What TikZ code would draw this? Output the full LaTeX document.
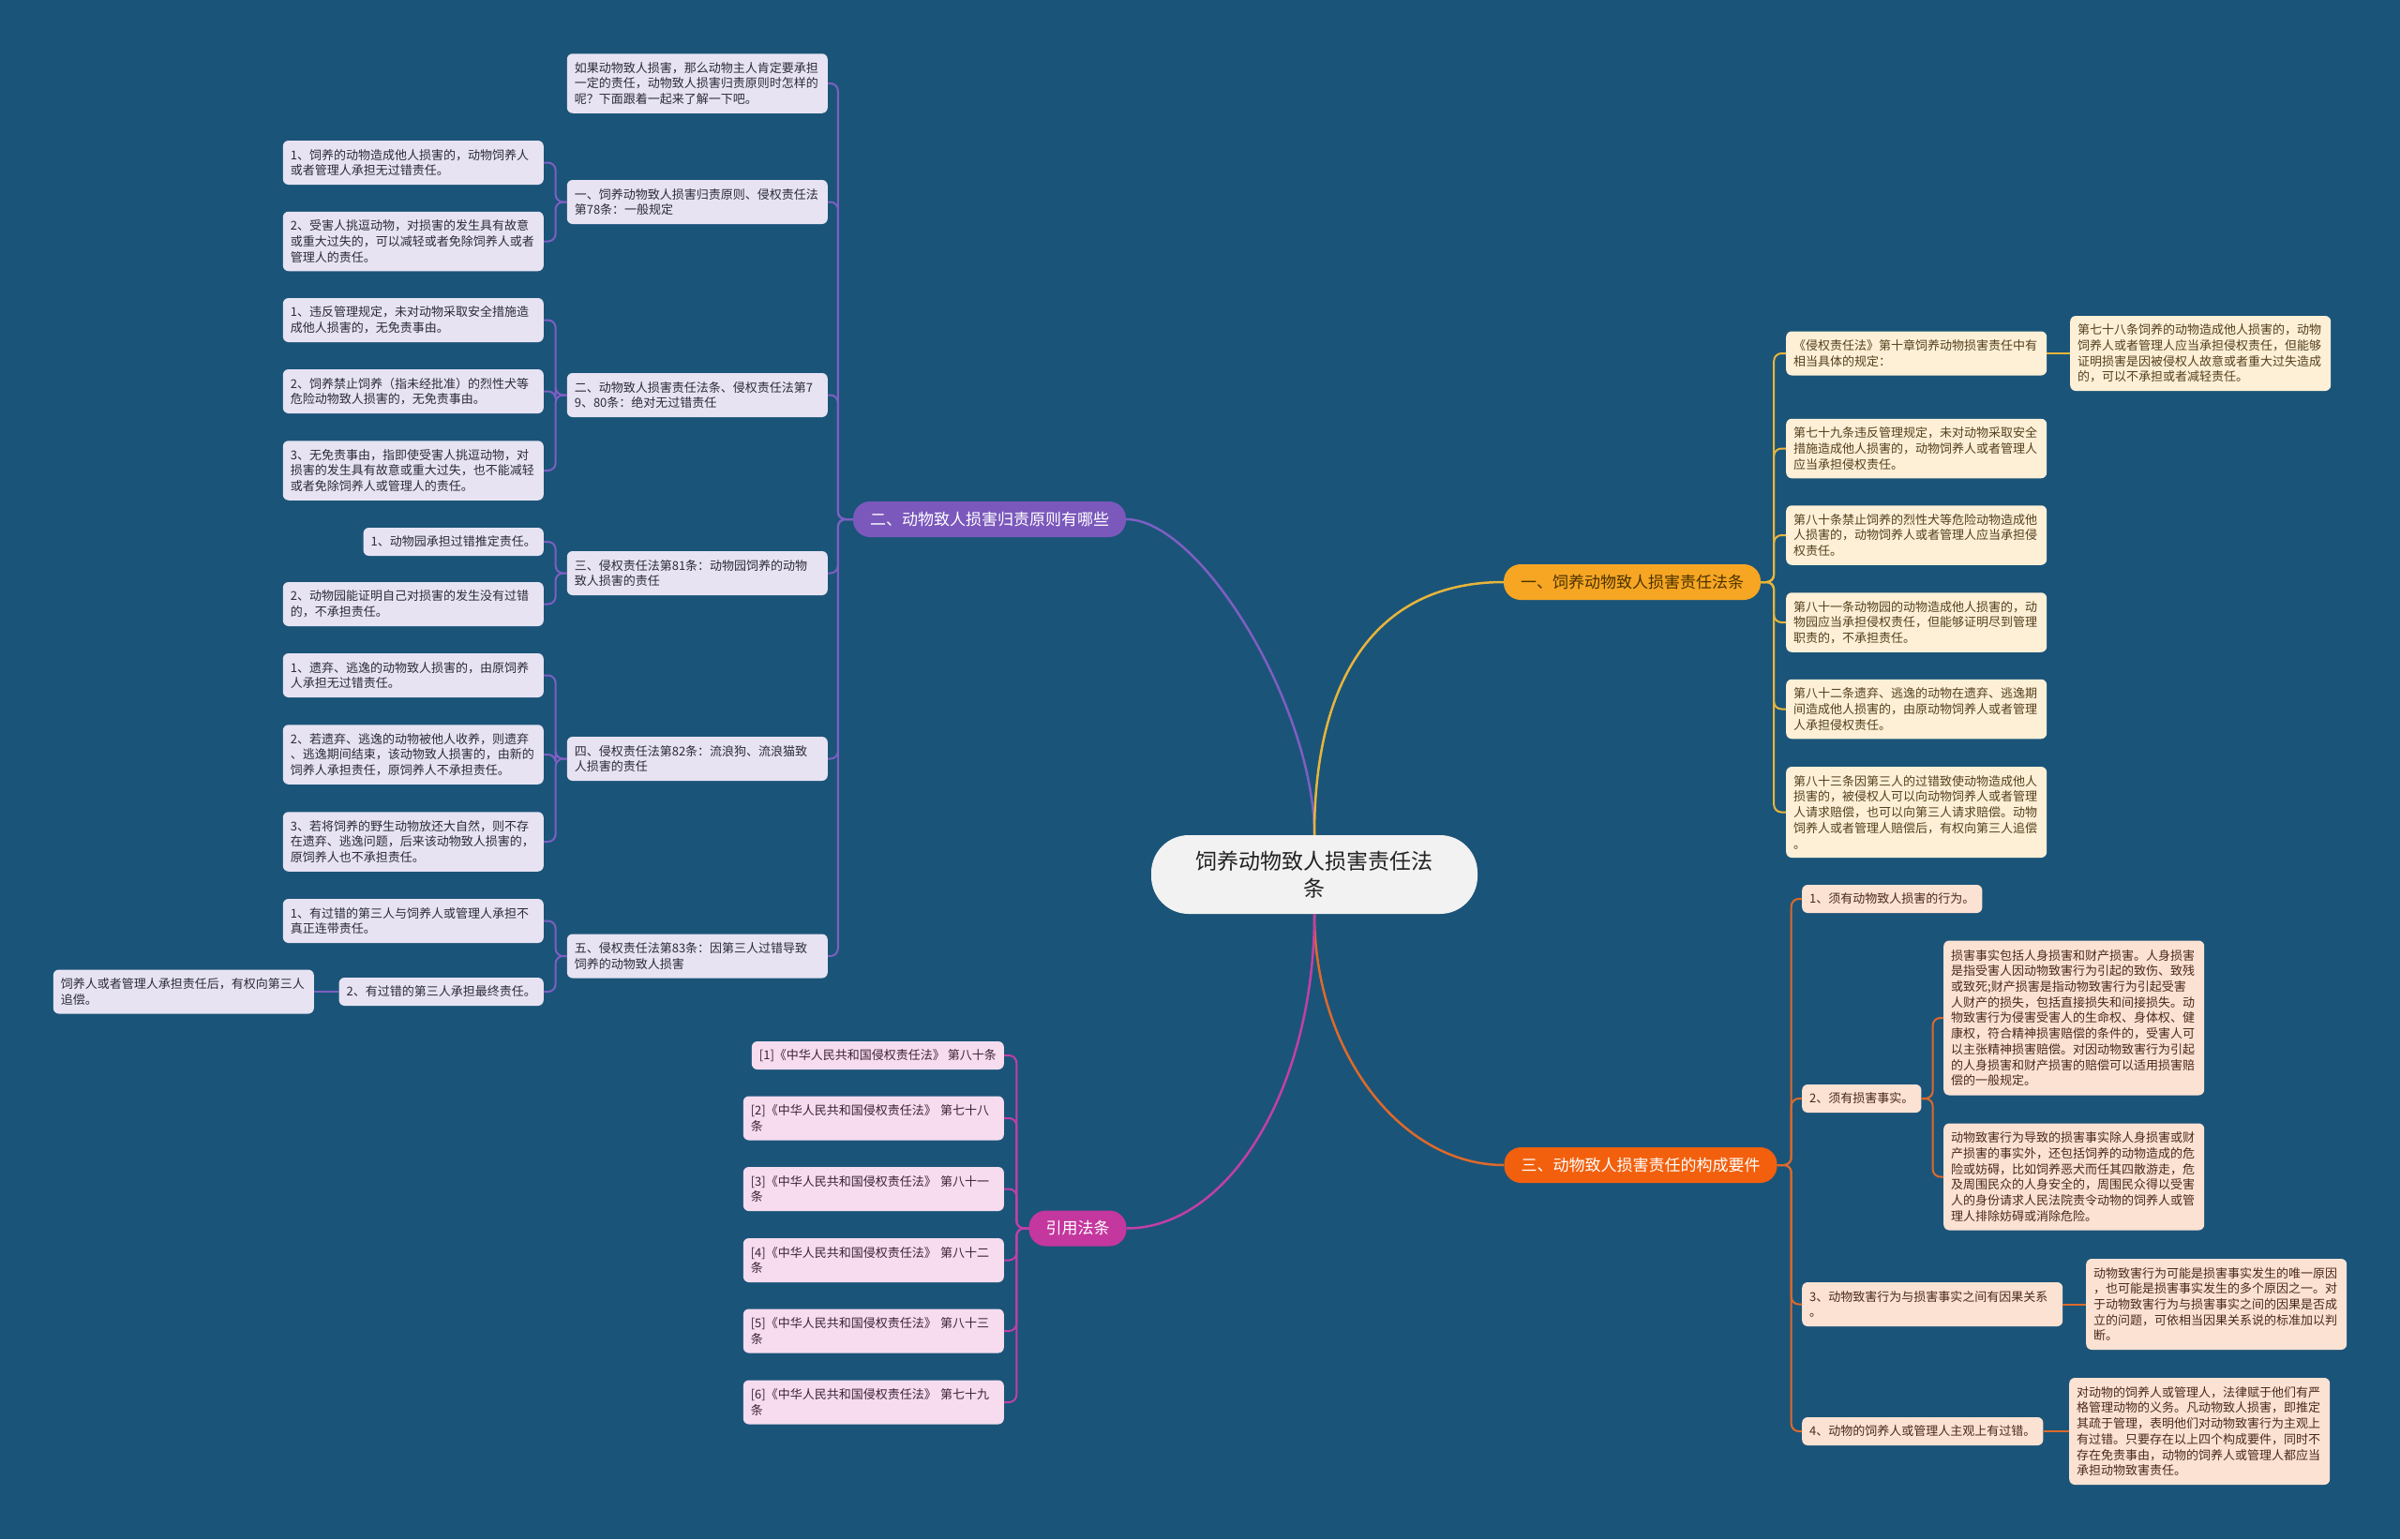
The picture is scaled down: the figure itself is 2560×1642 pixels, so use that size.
\documentclass[tikz,border=0pt]{standalone}
\usepackage{fontspec}
\setmainfont{Noto Sans CJK SC}
\definecolor{bg}{HTML}{1B5479}
\definecolor{cfill}{HTML}{F2F2F2}
\definecolor{ctext}{HTML}{222222}
\definecolor{pcol}{HTML}{7B58BC}
\definecolor{plinec}{HTML}{7D5FC2}
\definecolor{pleaff}{HTML}{E7E3F2}
\definecolor{ptext}{HTML}{2B2B3A}
\definecolor{ycol}{HTML}{F6A623}
\definecolor{ylinec}{HTML}{E8B53A}
\definecolor{yleaff}{HTML}{FDF0D6}
\definecolor{ytext}{HTML}{54401E}
\definecolor{ybtext}{HTML}{4B3200}
\definecolor{ocol}{HTML}{F2600D}
\definecolor{olinec}{HTML}{DE6A2A}
\definecolor{oleaff}{HTML}{FCE2D3}
\definecolor{otext}{HTML}{4A2A1A}
\definecolor{mcol}{HTML}{C4379E}
\definecolor{mlinec}{HTML}{C23FA8}
\definecolor{mleaff}{HTML}{F6DCEE}
\definecolor{mtext}{HTML}{3E2238}
\tikzset{
  leafbase/.style={rounded corners=6pt, inner xsep=8pt, inner ysep=0pt, align=left,
    font=\fontsize{13}{16.7}\selectfont},
  tw/.style={text width=262pt},
  hA/.style={minimum height=30pt},
  hB/.style={minimum height=47pt},
  hC/.style={minimum height=63.5pt},
  hD/.style={minimum height=80pt},
  hE/.style={minimum height=97pt},
  hF/.style={minimum height=114pt},
  hI/.style={minimum height=165pt},
  pleaf/.style={leafbase, fill=pleaff, text=ptext, anchor=east},
  yleaf/.style={leafbase, fill=yleaff, text=ytext, anchor=west},
  oleaf/.style={leafbase, fill=oleaff, text=otext, anchor=west},
  mleaf/.style={leafbase, fill=mleaff, text=mtext, anchor=east},
  bnode/.style={rounded corners=18pt, minimum height=38pt, inner xsep=18pt, inner ysep=0pt,
    font=\fontsize{17}{20}\selectfont},
  cnode/.style={fill=cfill, text=ctext, rounded corners=40pt, align=center,
    font=\fontsize{23}{29.5}\selectfont, minimum width=348pt, minimum height=84pt, inner sep=0pt},
  pline/.style={draw=plinec, line width=2pt, rounded corners=8pt},
  yline/.style={draw=ylinec, line width=2pt, rounded corners=8pt},
  oline/.style={draw=olinec, line width=2pt, rounded corners=8pt},
  mline/.style={draw=mlinec, line width=2pt, rounded corners=8pt},
}
\begin{document}
\begin{tikzpicture}[x=1pt,y=-1pt]
\fill[bg] (0,0) rectangle (2560,1642);
\useasboundingbox (0,0) rectangle (2560,1642);

% center and branches
\node[cnode] (C) at (1402,933) {饲养动物致人损害责任法\\条};
\node[bnode, fill=pcol, text=white] (B2) at (1055.5,554) {二、动物致人损害归责原则有哪些};
\node[bnode, fill=ycol, text=ybtext] (B1) at (1741,621) {一、饲养动物致人损害责任法条};
\node[bnode, fill=ocol, text=white] (B3) at (1750,1243) {三、动物致人损害责任的构成要件};
\node[bnode, fill=mcol, text=white] (CI) at (1149.5,1310.5) {引用法条};

% left purple level 2
\node[pleaf, tw, hC] (Lin) at (883,89) {如果动物致人损害，那么动物主人肯定要承担\\一定的责任，动物致人损害归责原则时怎样的\\呢？下面跟着一起来了解一下吧。};
\node[pleaf, tw, hB] (L1) at (883,215.5) {一、饲养动物致人损害归责原则、侵权责任法\\第78条：一般规定};
\node[pleaf, tw, hB] (L2) at (883,421.5) {二、动物致人损害责任法条、侵权责任法第7\\9、80条：绝对无过错责任};
\node[pleaf, tw, hB] (L3) at (883,611.5) {三、侵权责任法第81条：动物园饲养的动物\\致人损害的责任};
\node[pleaf, tw, hB] (L4) at (883,809.5) {四、侵权责任法第82条：流浪狗、流浪猫致\\人损害的责任};
\node[pleaf, tw, hB] (L5) at (883,1020) {五、侵权责任法第83条：因第三人过错导致\\饲养的动物致人损害};

% left purple level 3
\node[pleaf, tw, hB] (L1a) at (580,173.5) {1、饲养的动物造成他人损害的，动物饲养人\\或者管理人承担无过错责任。};
\node[pleaf, tw, hC] (L1b) at (580,257.5) {2、受害人挑逗动物，对损害的发生具有故意\\或重大过失的，可以减轻或者免除饲养人或者\\管理人的责任。};
\node[pleaf, tw, hB] (L2a) at (580,341.5) {1、违反管理规定，未对动物采取安全措施造\\成他人损害的，无免责事由。};
\node[pleaf, tw, hB] (L2b) at (580,417.5) {2、饲养禁止饲养（指未经批准）的烈性犬等\\危险动物致人损害的，无免责事由。};
\node[pleaf, tw, hC] (L2c) at (580,502) {3、无免责事由，指即使受害人挑逗动物，对\\损害的发生具有故意或重大过失，也不能减轻\\或者免除饲养人或管理人的责任。};
\node[pleaf, hA] (L3a) at (580,578) {1、动物园承担过错推定责任。};
\node[pleaf, tw, hB] (L3b) at (580,644.5) {2、动物园能证明自己对损害的发生没有过错\\的，不承担责任。};
\node[pleaf, tw, hB] (L4a) at (580,720.5) {1、遗弃、逃逸的动物致人损害的，由原饲养\\人承担无过错责任。};
\node[pleaf, tw, hC] (L4b) at (580,805) {2、若遗弃、逃逸的动物被他人收养，则遗弃\\、逃逸期间结束，该动物致人损害的，由新的\\饲养人承担责任，原饲养人不承担责任。};
\node[pleaf, tw, hC] (L4c) at (580,898) {3、若将饲养的野生动物放还大自然，则不存\\在遗弃、逃逸问题，后来该动物致人损害的，\\原饲养人也不承担责任。};
\node[pleaf, tw, hB] (L5a) at (580,982.5) {1、有过错的第三人与饲养人或管理人承担不\\真正连带责任。};
\node[pleaf, hA] (L5b) at (580,1058) {2、有过错的第三人承担最终责任。};
\node[pleaf, tw, hB] (L5c) at (335,1058) {饲养人或者管理人承担责任后，有权向第三人\\追偿。};

% citations
\node[mleaf, hA] (M1) at (1071,1126) {[1]《中华人民共和国侵权责任法》 第八十条};
\node[mleaf, tw, hB] (M2) at (1071,1193) {[2]《中华人民共和国侵权责任法》 第七十八\\条};
\node[mleaf, tw, hB] (M3) at (1071,1268.5) {[3]《中华人民共和国侵权责任法》 第八十一\\条};
\node[mleaf, tw, hB] (M4) at (1071,1344.5) {[4]《中华人民共和国侵权责任法》 第八十二\\条};
\node[mleaf, tw, hB] (M5) at (1071,1420) {[5]《中华人民共和国侵权责任法》 第八十三\\条};
\node[mleaf, tw, hB] (M6) at (1071,1496) {[6]《中华人民共和国侵权责任法》 第七十九\\条};

% right yellow
\node[yleaf, tw, hB] (R1) at (1905,377) {《侵权责任法》第十章饲养动物损害责任中有\\相当具体的规定：};
\node[yleaf, tw, hD] (R1a) at (2208,377) {第七十八条饲养的动物造成他人损害的，动物\\饲养人或者管理人应当承担侵权责任，但能够\\证明损害是因被侵权人故意或者重大过失造成\\的，可以不承担或者减轻责任。};
\node[yleaf, tw, hC] (R2) at (1905,478.5) {第七十九条违反管理规定，未对动物采取安全\\措施造成他人损害的，动物饲养人或者管理人\\应当承担侵权责任。};
\node[yleaf, tw, hC] (R3) at (1905,571) {第八十条禁止饲养的烈性犬等危险动物造成他\\人损害的，动物饲养人或者管理人应当承担侵\\权责任。};
\node[yleaf, tw, hC] (R4) at (1905,664) {第八十一条动物园的动物造成他人损害的，动\\物园应当承担侵权责任，但能够证明尽到管理\\职责的，不承担责任。};
\node[yleaf, tw, hC] (R5) at (1905,756.5) {第八十二条遗弃、逃逸的动物在遗弃、逃逸期\\间造成他人损害的，由原动物饲养人或者管理\\人承担侵权责任。};
\node[yleaf, tw, hE] (R6) at (1905,866.5) {第八十三条因第三人的过错致使动物造成他人\\损害的，被侵权人可以向动物饲养人或者管理\\人请求赔偿，也可以向第三人请求赔偿。动物\\饲养人或者管理人赔偿后，有权向第三人追偿\\。};

% right orange
\node[oleaf, hA] (S1) at (1922,959) {1、须有动物致人损害的行为。};
\node[oleaf, hA] (S2) at (1922,1172) {2、须有损害事实。};
\node[oleaf, tw, hI] (S2a) at (2073,1086) {损害事实包括人身损害和财产损害。人身损害\\是指受害人因动物致害行为引起的致伤、致残\\或致死;财产损害是指动物致害行为引起受害\\人财产的损失，包括直接损失和间接损失。动\\物致害行为侵害受害人的生命权、身体权、健\\康权，符合精神损害赔偿的条件的，受害人可\\以主张精神损害赔偿。对因动物致害行为引起\\的人身损害和财产损害的赔偿可以适用损害赔\\偿的一般规定。};
\node[oleaf, tw, hF] (S2b) at (2073,1255.5) {动物致害行为导致的损害事实除人身损害或财\\产损害的事实外，还包括饲养的动物造成的危\\险或妨碍，比如饲养恶犬而任其四散游走，危\\及周围民众的人身安全的，周围民众得以受害\\人的身份请求人民法院责令动物的饲养人或管\\理人排除妨碍或消除危险。};
\node[oleaf, tw, hB] (S3) at (1922,1391.5) {3、动物致害行为与损害事实之间有因果关系\\。};
\node[oleaf, tw, hE] (S3a) at (2225,1391.5) {动物致害行为可能是损害事实发生的唯一原因\\，也可能是损害事实发生的多个原因之一。对\\于动物致害行为与损害事实之间的因果是否成\\立的问题，可依相当因果关系说的标准加以判\\断。};
\node[oleaf, hA] (S4) at (1922,1527) {4、动物的饲养人或管理人主观上有过错。};
\node[oleaf, tw, hF] (S4a) at (2207,1527) {对动物的饲养人或管理人，法律赋于他们有严\\格管理动物的义务。凡动物致人损害，即推定\\其疏于管理，表明他们对动物致害行为主观上\\有过错。只要存在以上四个构成要件，同时不\\存在免责事由，动物的饲养人或管理人都应当\\承担动物致害责任。};

% main connectors
\draw[draw=plinec, line width=2.5pt] (C.north) .. controls +(0,-135) and +(80,0) .. (B2.east);
\draw[draw=ylinec, line width=2.5pt] (C.north) .. controls +(0,-175) and +(-130,0) .. (B1.west);
\draw[draw=olinec, line width=2.5pt] (C.south) .. controls +(0,147) and +(-110,0) .. (B3.west);
\draw[draw=mlinec, line width=2.5pt] (C.south) .. controls +(0,184) and +(110,0) .. (CI.east);

% purple connectors
\foreach \n in {Lin,L1,L2,L3,L4,L5} \draw[pline] (B2.west) -- ++(-16,0) |- (\n.east);
\foreach \n in {L1a,L1b} \draw[pline] (L1.west) -- ++(-12,0) |- (\n.east);
\foreach \n in {L2a,L2b,L2c} \draw[pline] (L2.west) -- ++(-12,0) |- (\n.east);
\foreach \n in {L3a,L3b} \draw[pline] (L3.west) -- ++(-12,0) |- (\n.east);
\foreach \n in {L4a,L4b,L4c} \draw[pline] (L4.west) -- ++(-12,0) |- (\n.east);
\foreach \n in {L5a,L5b} \draw[pline] (L5.west) -- ++(-12,0) |- (\n.east);
\draw[pline] (L5b.west) -- (L5c.east);

% magenta connectors
\foreach \n in {M1,M2,M3,M4,M5,M6} \draw[mline] (CI.west) -- ++(-13,0) |- (\n.east);

% yellow connectors
\foreach \n in {R1,R2,R3,R4,R5,R6} \draw[yline] (B1.east) -- ++(14,0) |- (\n.west);
\draw[yline] (R1.east) -- (R1a.west);

% orange connectors
\foreach \n in {S1,S2,S3,S4} \draw[oline] (B3.east) -- ++(15,0) |- (\n.west);
\foreach \n in {S2a,S2b} \draw[oline] (S2.east) -- ++(12,0) |- (\n.west);
\draw[oline] (S3.east) -- (S3a.west);
\draw[oline] (S4.east) -- (S4a.west);
\end{tikzpicture}
\end{document}
